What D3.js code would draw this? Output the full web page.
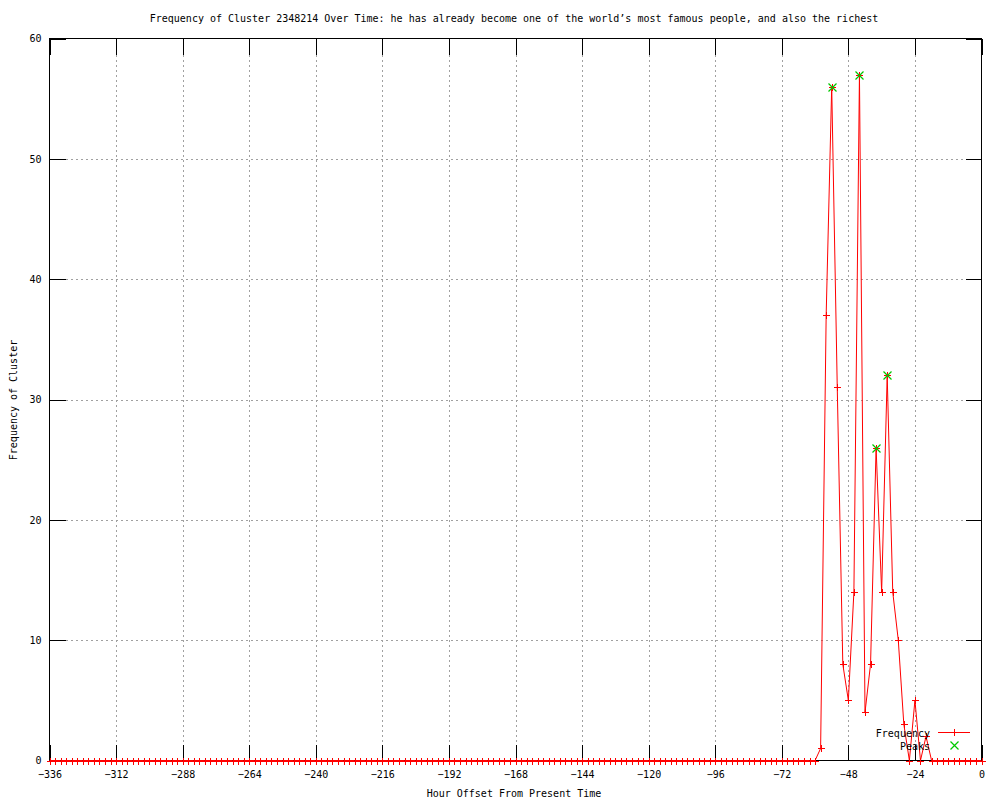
<!DOCTYPE html>
<html>
<head>
<meta charset="utf-8">
<script src="https://cdn.jsdelivr.net/npm/d3@7"></script>
<style>
body { margin: 0; background: #fff; }
svg { display: block; }
text { font-family: "DejaVu Sans Mono", monospace; font-size: 10px; fill: #000; }
</style>
</head>
<body>
<svg id="chart" width="1000" height="800"></svg>
<script>
// ---- data ----
const hours = [
-336,-334,-332,-330,-328,-326,-324,-322,-320,-318,-316,-314,-312,-310,-308,-306,-304,-302,-300,-298,
-296,-294,-292,-290,-288,-286,-284,-282,-280,-278,-276,-274,-272,-270,-268,-266,-264,-262,-260,-258,
-256,-254,-252,-250,-248,-246,-244,-242,-240,-238,-236,-234,-232,-230,-228,-226,-224,-222,-220,-218,
-216,-214,-212,-210,-208,-206,-204,-202,-200,-198,-196,-194,-192,-190,-188,-186,-184,-182,-180,-178,
-176,-174,-172,-170,-168,-166,-164,-162,-160,-158,-156,-154,-152,-150,-148,-146,-144,-142,-140,-138,
-136,-134,-132,-130,-128,-126,-124,-122,-120,-118,-116,-114,-112,-110,-108,-106,-104,-102,-100,-98,
-96,-94,-92,-90,-88,-86,-84,-82,-80,-78,-76,-74,-72,-70,-68,-66,-64,-62,-60,-58,
-56,-54,-52,-50,-48,-46,-44,-42,-40,-38,-36,-34,-32,-30,-28,-26,-24,-22,-20,-18,
-16,-14,-12,-10,-8,-6,-4,-2,0
];
const frequency = [
0,0,0,0,0,0,0,0,0,0,0,0,0,0,0,0,0,0,0,0,
0,0,0,0,0,0,0,0,0,0,0,0,0,0,0,0,0,0,0,0,
0,0,0,0,0,0,0,0,0,0,0,0,0,0,0,0,0,0,0,0,
0,0,0,0,0,0,0,0,0,0,0,0,0,0,0,0,0,0,0,0,
0,0,0,0,0,0,0,0,0,0,0,0,0,0,0,0,0,0,0,0,
0,0,0,0,0,0,0,0,0,0,0,0,0,0,0,0,0,0,0,0,
0,0,0,0,0,0,0,0,0,0,0,0,0,0,0,0,0,0,0,1,
37,56,31,8,5,14,57,4,8,26,14,32,14,10,3,0,5,0,2,0,
0,0,0,0,0,0,0,0,0
];
const peakHours = [-54, -44, -38, -34];
const peakValues = [56, 57, 26, 32];
const xTicks = [-336,-312,-288,-264,-240,-216,-192,-168,-144,-120,-96,-72,-48,-24,0];
const yTicks = [0,10,20,30,40,50,60];
const titleText = "Frequency of Cluster 2348214 Over Time: he has already become one of the world’s most famous people, and also the richest";
const xLabel = "Hour Offset From Present Time";
const yLabel = "Frequency of Cluster";
const legendLabels = ["Frequency", "Peaks"];

// ---- layout ----
const L = 49.5, R = 981.5, T = 38.5, B = 760.5;
const svg = d3.select("#chart");
const x = d3.scaleLinear().domain([-336, 0]).range([L, R]);
const y = d3.scaleLinear().domain([0, 60]).range([B, T]);
const tickLen = 16;

// grid
const grid = svg.append("g").attr("stroke", "#a0a0a0").attr("stroke-width", 1)
  .attr("stroke-dasharray", "2,3").attr("shape-rendering", "crispEdges");
xTicks.filter(t => t !== -336 && t !== 0).forEach(t => {
  grid.append("line").attr("x1", Math.round(x(t)) + 0.5).attr("x2", Math.round(x(t)) + 0.5)
    .attr("y1", T + tickLen).attr("y2", B - tickLen);
});
yTicks.filter(t => t !== 0 && t !== 60).forEach(t => {
  grid.append("line").attr("y1", Math.round(y(t)) + 0.5).attr("y2", Math.round(y(t)) + 0.5)
    .attr("x1", L + tickLen).attr("x2", R - tickLen);
});

// axes via d3 axis generators (ticks inward)
const axisG = svg.append("g").attr("shape-rendering", "crispEdges");
const axBottom = axisG.append("g").attr("transform", `translate(0,${B})`)
  .call(d3.axisBottom(x).tickValues(xTicks).tickSize(-tickLen).tickPadding(10).tickFormat(d3.format("d")));
axisG.append("g").attr("transform", `translate(0,${T})`)
  .call(d3.axisTop(x).tickValues(xTicks).tickSize(-tickLen).tickFormat(""));
const axLeft = axisG.append("g").attr("transform", `translate(${L},0)`)
  .call(d3.axisLeft(y).tickValues(yTicks).tickSize(-tickLen).tickPadding(8).tickFormat(d3.format("d")));
axisG.append("g").attr("transform", `translate(${R},0)`)
  .call(d3.axisRight(y).tickValues(yTicks).tickSize(-tickLen).tickFormat(""));
axisG.selectAll(".domain").remove();
axisG.selectAll("line").attr("stroke", "#000");
axisG.selectAll("text").attr("font-family", "DejaVu Sans Mono, monospace").attr("font-size", 10).attr("fill", "#000");
svg.append("rect").attr("x", L).attr("y", T).attr("width", R - L).attr("height", B - T)
  .attr("fill", "none").attr("stroke", "#000").attr("shape-rendering", "crispEdges");

// data line
const pts = hours.map((h, i) => [h, frequency[i]]);
const line = d3.line().x(d => x(d[0])).y(d => y(d[1]));
svg.append("path").datum(pts).attr("d", line).attr("fill", "none").attr("stroke", "#ff0000").attr("stroke-width", 1);

// plus markers
const ps = 3.5;
svg.append("g").selectAll("path").data(pts).join("path")
  .attr("d", d => { const cx = Math.round(x(d[0])) + 0.5, cy = Math.round(y(d[1])) + 0.5; return `M${cx-ps},${cy}L${cx+ps},${cy}M${cx},${cy-ps}L${cx},${cy+ps}`; })
  .attr("stroke", "#ff0000").attr("stroke-width", 1).attr("fill", "none").attr("shape-rendering", "crispEdges");

// peaks (green x, drawn on top)
const peaks = peakHours.map((h, i) => [h, peakValues[i]]);
const pk = 4;
svg.append("g").selectAll("path").data(peaks).join("path")
  .attr("d", d => { const cx = Math.round(x(d[0])) + 0.5, cy = Math.round(y(d[1])) + 0.5; return `M${cx-pk},${cy-pk}L${cx+pk},${cy+pk}M${cx-pk},${cy+pk}L${cx+pk},${cy-pk}`; })
  .attr("stroke", "#00c800").attr("stroke-width", 1.2).attr("fill", "none");

// legend
const lg = svg.append("g");
lg.append("text").attr("x", 930).attr("y", 736.5).attr("text-anchor", "end").text(legendLabels[0]);
lg.append("line").attr("x1", 938).attr("x2", 970).attr("y1", 732.5).attr("y2", 732.5).attr("stroke", "#ff0000").attr("shape-rendering", "crispEdges");
lg.append("path").attr("d", `M${954.5-ps},732.5L${954.5+ps},732.5M954.5,${732.5-ps}L954.5,${732.5+ps}`).attr("stroke", "#ff0000").attr("shape-rendering", "crispEdges");
lg.append("text").attr("x", 930).attr("y", 749.5).attr("text-anchor", "end").text(legendLabels[1]);
lg.append("path").attr("d", `M${954.5-pk},${745.5-pk}L${954.5+pk},${745.5+pk}M${954.5-pk},${745.5+pk}L${954.5+pk},${745.5-pk}`)
  .attr("stroke", "#00c800").attr("stroke-width", 1.2).attr("fill", "none");

// titles
svg.append("text").attr("x", 514).attr("y", 22).attr("text-anchor", "middle").text(titleText);
svg.append("text").attr("x", 514).attr("y", 797).attr("text-anchor", "middle").text(xLabel);
svg.append("text").attr("transform", "translate(17,400) rotate(-90)").attr("text-anchor", "middle").text(yLabel);
</script>
</body>
</html>
